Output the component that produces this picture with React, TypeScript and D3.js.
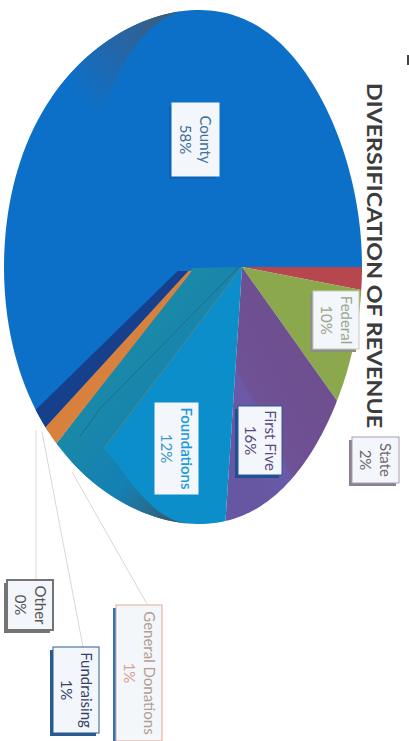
import React from "react";
import * as d3 from "d3";

// Revenue shares, in percent, clockwise from the start of the State slice.
const categories = ["State", "Federal", "First Five", "Foundations", "General Donations", "Fundraising", "Other", "County"];
const shares = [2, 10, 16, 12, 1, 1, 0, 58];
const percentLabels = ["2%", "10%", "16%", "12%", "1%", "1%", "0%", "58%"];
const sliceColors = ["#b6474f", "#8ca84c", "#6a53a0", "#0c8eca", "#d8803e", "#163f8c", "#7a7a7a", "#0d70c8"];

const titleText = "DIVERSIFICATION OF REVENUE";

// Callout box placement: [left, top, width, height], one row per category.
const boxes: Record<string, number[]> = {
  State: [352, 437, 47, 46],
  Federal: [313, 291, 46, 58],
  "First Five": [238, 406, 44, 69],
  Foundations: [155, 403, 43, 91],
  "General Donations": [116, 605, 46, 136],
  Fundraising: [53, 647, 46, 86],
  Other: [7, 580, 46, 50],
  County: [172, 103, 47, 73],
};
const boxShadows: Record<string, string> = {
  State: "#8d7f92",
  Federal: "#8c8f86",
  "First Five": "#1f4f92",
  Foundations: "#0c8eca",
  "General Donations": "#2f74b4",
  Fundraising: "#2a5a90",
  Other: "#747474",
  County: "#0d64b4",
};
const boxStrokes: Record<string, string> = {
  State: "#a89fb0",
  Federal: "#c5cbb8",
  "First Five": "#2a5a98",
  Foundations: "#f3f6fa",
  "General Donations": "#e2aa90",
  Fundraising: "#2a5a90",
  Other: "#747474",
  County: "#f3f6fa",
};
const textColors: Record<string, string> = {
  State: "#6d6670",
  Federal: "#9aa58c",
  "First Five": "#57497f",
  Foundations: "#1b9bdc",
  "General Donations": "#b39c92",
  Fundraising: "#34426a",
  Other: "#555555",
  County: "#3f6f9a",
};
const percentColors: Record<string, string> = {
  ...textColors,
  Foundations: "#3a98c8",
  "General Donations": "#dc9f8e",
};
const leaderEnds: Record<string, number[]> = {
  "General Donations": [72, 472, 147, 604],
  Fundraising: [42, 432, 83, 647],
  Other: [36, 430, 36, 580],
};

// Oval outline of the tilted pie and the perspective offset of its hub.
const cx = 183;
const cy = 267;
const rx = 179;
const ry = 257;
const tilt = 0.33;
const tiltScale = Math.sqrt(1 - tilt * tilt);
const eggLean = 16;

// Collineation of the unit disc: the disc centre lands on the pie's hub.
function project(r: number, angle: number): [number, number] {
  const u = r * Math.cos(angle);
  const v = r * Math.sin(angle);
  const d = 1 + tilt * u;
  const yNorm = (v * tiltScale) / d;
  return [cx + (rx * (u + tilt)) / d + eggLean * yNorm ** 4, cy + ry * yNorm];
}

const line = d3.line<[number, number]>();
const tau = Math.PI * 2;
const deg = (d: number) => (d * Math.PI) / 180;

function rim(a0: number, a1: number): [number, number][] {
  const steps = Math.max(2, Math.ceil((Math.abs(a1 - a0) / tau) * 240));
  return d3.range(steps + 1).map((i) => project(1, a0 + ((a1 - a0) * i) / steps));
}

const pieAngles = d3
  .pie<number>()
  .sort(null)
  .startAngle(0)
  .endAngle(tau)(shares);

// The two thin slices sit on a raised wall, so they start further round and meet at their own hub.
const wallShift = deg(4.5);

function wedge(i: number): string {
  const a = pieAngles[i];
  return line([project(0, 0), ...rim(a.startAngle, a.endAngle)])! + "Z";
}
function strip(i: number, hubA: number, hubB: number): string {
  const a = pieAngles[i];
  const p0: [number, number] = [cx + rx * hubA, cy + 4];
  const p1: [number, number] = [cx + rx * hubB, cy + 4];
  return line([p0, ...rim(a.startAngle + wallShift, a.endAngle + wallShift), p1])! + "Z";
}

function wallPath(): string {
  const a = pieAngles[3];
  const wallEnd = a.endAngle + wallShift;
  const wallStart = deg(113);
  const inner = d3.range(0, 21).map((i) => {
    const t = i / 20;
    const eased = t * t * (3 - 2 * t);
    return project(1 - 0.1 * eased, wallStart + (deg(140) - wallStart) * t);
  });
  return (
    line([
      project(0, 0),
      [cx + rx * 0.05, cy + 1],
      ...rim(wallEnd, wallStart),
      ...inner,
    ])! + "Z"
  );
}

// Shaded wall along the far rim of the County slice, tapering to nothing at its top end.
function countyShade(): string {
  const outer = rim(deg(-113), deg(-150));
  const inner = d3.range(0, 21).map((i) => {
    const t = i / 20;
    const eased = t * t * (3 - 2 * t);
    return project(1 - 0.16 * (1 - eased), deg(-150) + (deg(-113) - deg(-150)) * t);
  });
  return line([...outer, ...inner])! + "Z";
}

export default function App() {
  const hub = project(0, 0);
  const wallTip = project(0.9, deg(140));
  return (
    <svg
      width={409}
      height={741}
      viewBox="0 0 409 741"
      style={{ position: "absolute", left: 0, top: 0, background: "#fff" }}
      fontFamily="Lato, 'Open Sans', sans-serif"
    >
      <defs>
        <linearGradient id="wallFill" gradientUnits="userSpaceOnUse" x1={70} y1={430} x2={175} y2={520}>
          <stop offset="0" stopColor="#1a88a8" />
          <stop offset="0.55" stopColor="#1480b4" />
          <stop offset="0.85" stopColor="#2a6a8a" />
          <stop offset="1" stopColor="#3a5466" />
        </linearGradient>
        <linearGradient id="firstFiveFill" gradientUnits="userSpaceOnUse" x1={310} y1={400} x2={232} y2={440}>
          <stop offset="0" stopColor="#6e4f90" />
          <stop offset="0.55" stopColor="#6f5196" />
          <stop offset="0.62" stopColor="#6a5aa8" />
          <stop offset="1" stopColor="#6756a2" />
        </linearGradient>
        <linearGradient id="countyShadeFill" gradientUnits="userSpaceOnUse" x1={165} y1={16} x2={72} y2={88}>
          <stop offset="0" stopColor="#3d5c7c" />
          <stop offset="0.3" stopColor="#2c639c" />
          <stop offset="1" stopColor="#0d70c8" />
        </linearGradient>
      </defs>

      <path d={wedge(7)} fill={sliceColors[7]} />
      <path d={countyShade()} fill="url(#countyShadeFill)" />
      <path d={wedge(0)} fill={sliceColors[0]} />
      <path d={wedge(1)} fill={sliceColors[1]} />
      <path d={wedge(2)} fill="url(#firstFiveFill)" />
      <path d={wedge(3)} fill={sliceColors[3]} />
      <path d={wallPath()} fill="url(#wallFill)" />
      <path d={strip(5, 0.03, -0.03)} fill={sliceColors[5]} />
      <path d={strip(4, 0.05, 0.03)} fill={sliceColors[4]} />

      {/* Faint seam lines on the wall */}
      <path d={line([hub, wallTip])!} fill="none" stroke="#3f8a9c" strokeWidth={1.2} />
      <path
        d={line([project(0.02, deg(180)), project(0.83, deg(147)), project(0.93, deg(146))])!}
        fill="none"
        stroke="#235f86"
        strokeWidth={0.8}
      />

      {Object.entries(leaderEnds).map(([name, [x1, y1, x2, y2]]) => (
        <line key={name} x1={x1} y1={y1} x2={x2} y2={y2} stroke="#dcd6d2" strokeWidth={1} />
      ))}

      {categories.map((name, i) => {
        const [x, y, w, h] = boxes[name];
        const mx = x + w / 2;
        const my = y + h / 2;
        const isFoundations = name === "Foundations";
        const isOther = name === "Other";
        return (
          <g key={name}>
            <rect x={x - 3} y={y + 3} width={w} height={h} fill={boxShadows[name]} />
            <rect
              x={x}
              y={y}
              width={w}
              height={h}
              fill="#f3f6fa"
              stroke={boxStrokes[name]}
              strokeWidth={isOther ? 2 : 1}
            />
            <g transform={`translate(${mx},${my}) rotate(90)`} textAnchor="middle">
              <text y={-4.5} fontSize={15} fontWeight={isFoundations ? 600 : 400} fill={textColors[name]}>
                {name}
              </text>
              <text y={15.5} fontSize={15} fill={percentColors[name]}>
                {percentLabels[i]}
              </text>
            </g>
          </g>
        );
      })}

      <text
        transform="translate(367,83) rotate(90)"
        fontSize={20}
        fontWeight={700}
        fill="#3c3c3c"
        textLength={345}
        lengthAdjust="spacingAndGlyphs"
      >
        {titleText}
      </text>
      <rect x={407} y={55} width={2} height={10} fill="#444" />
    </svg>
  );
}
